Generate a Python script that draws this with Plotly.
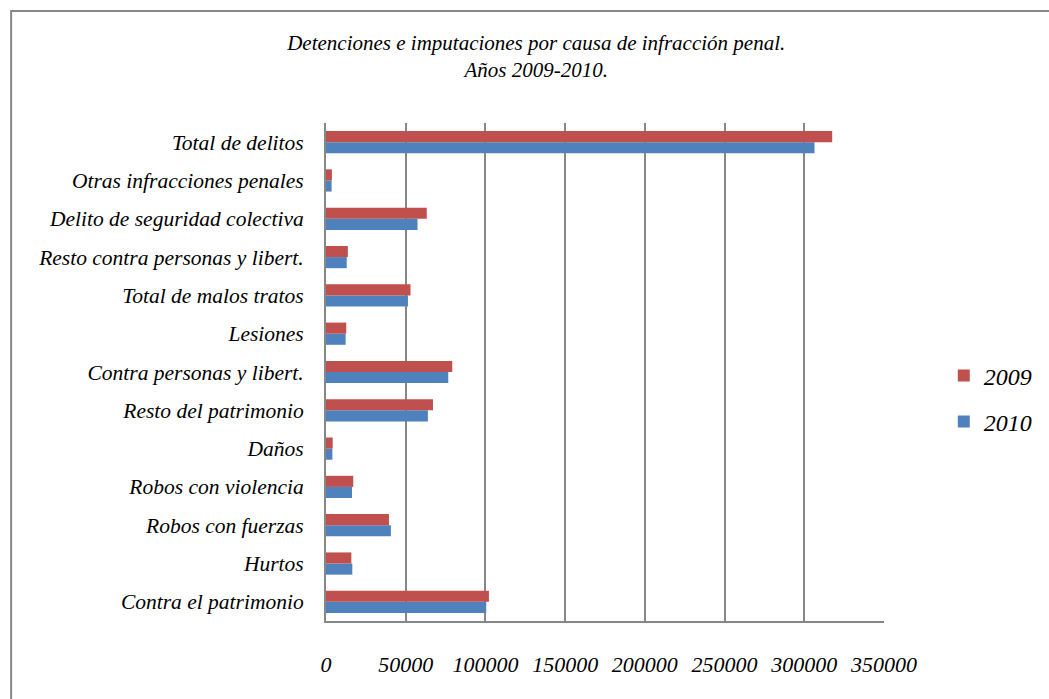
import plotly.graph_objects as go

# Categories listed bottom-to-top as they appear on the y axis
categorias = [
    "Contra el patrimonio",
    "Hurtos",
    "Robos con fuerzas",
    "Robos con violencia",
    "Daños",
    "Resto del patrimonio",
    "Contra personas y libert.",
    "Lesiones",
    "Total de malos tratos",
    "Resto contra personas y libert.",
    "Delito de seguridad colectiva",
    "Otras infracciones penales",
    "Total de delitos",
]

valores_2009 = [102200, 15900, 39500, 17100, 4200, 67100, 79200,
                12700, 53000, 13700, 63200, 3700, 317500]
valores_2010 = [100500, 16500, 40700, 16300, 4000, 63900, 76700,
                12300, 51400, 13000, 57400, 3500, 306400]

ticks_x = [0, 50000, 100000, 150000, 200000, 250000, 300000, 350000]

ROJO = "#C0504D"
AZUL = "#4F81BD"
GRIS = "#878787"
FUENTE = "Liberation Serif"

fig = go.Figure()
# 2010 first so that within each group the 2009 bar sits on top
fig.add_trace(go.Bar(
    y=categorias, x=valores_2010, orientation="h", name="2010",
    marker=dict(color=AZUL, line=dict(width=0)), legend="legend2",
    showlegend=True,
))
fig.add_trace(go.Bar(
    y=categorias, x=valores_2009, orientation="h", name="2009",
    marker=dict(color=ROJO, line=dict(width=0)), legend="legend",
    showlegend=True,
))

W, H = 1049, 699
L, R, T, B = 326, 886, 123, 621


def px_x(p):
    return (p - L) / (R - L)


def px_y(p):
    return (B - p) / (B - T)


fig.update_layout(
    width=W, height=H,
    margin=dict(l=L, r=W - R, t=T, b=H - B, pad=0),
    paper_bgcolor="white", plot_bgcolor="white",
    font=dict(family=FUENTE, size=21, color="black", style="italic"),
    showlegend=True,
    barmode="group", bargap=0.42, bargroupgap=0,
    title=dict(
        text="Detenciones e imputaciones por causa de infracción penal.<br>Años 2009-2010.",
        x=px_x(537), xref="paper", xanchor="center",
        y=1 - 50 / H, yref="container", yanchor="middle",
        font=dict(family=FUENTE, size=21, style="italic"),
    ),
    xaxis=dict(
        range=[0, 350000], tickvals=ticks_x,
        ticktext=[str(v) for v in ticks_x],
        showgrid=True, gridcolor=GRIS, gridwidth=2,
        showline=True, linecolor=GRIS, linewidth=2, mirror=False,
        zeroline=False,
        ticks="outside", ticklen=23, tickcolor="rgba(0,0,0,0)",
        tickfont=dict(family=FUENTE, size=22, style="italic"),
        fixedrange=True,
    ),
    yaxis=dict(
        categoryorder="array", categoryarray=categorias,
        showgrid=False, showline=True, linecolor=GRIS, linewidth=2,
        ticks="outside", ticklen=16, tickcolor="rgba(0,0,0,0)",
        tickfont=dict(family=FUENTE, size=21.5, style="italic"),
        fixedrange=True,
    ),
    legend=dict(
        x=px_x(946), y=px_y(376), xanchor="left", yanchor="middle",
        font=dict(family=FUENTE, size=24, style="italic"),
        bgcolor="rgba(0,0,0,0)", visible=True,
    ),
    legend2=dict(
        x=px_x(946), y=px_y(422), xanchor="left", yanchor="middle",
        font=dict(family=FUENTE, size=24, style="italic"),
        bgcolor="rgba(0,0,0,0)", visible=True,
    ),
    shapes=[dict(
        type="rect", xref="paper", yref="paper",
        x0=px_x(10), x1=px_x(1070), y0=px_y(720), y1=px_y(11),
        line=dict(color=GRIS, width=2), fillcolor="rgba(0,0,0,0)",
        layer="below",
    )],
)

fig.write_html("out.html")
